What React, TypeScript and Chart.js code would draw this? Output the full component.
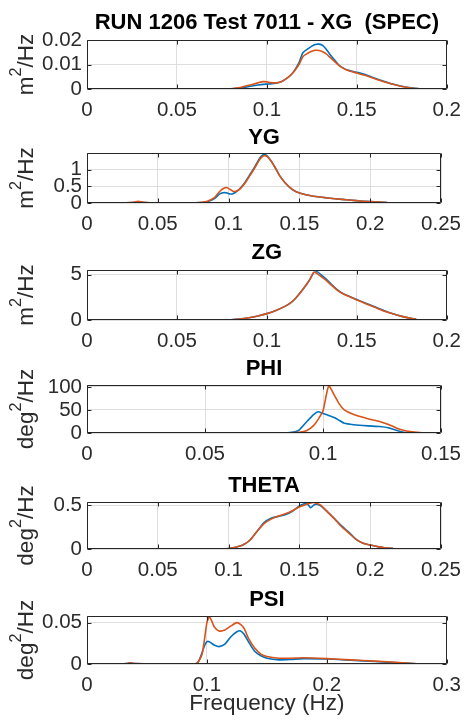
import React, { useEffect, useRef } from 'react';
import { Chart, registerables } from 'chart.js';

Chart.register(...registerables);

const FONT = "'Liberation Sans', Arial, Helvetica, sans-serif";
const BLUE = '#0072BD';
const ORANGE = '#D95319';

// ---------- XG ----------
const xgFreq = [0, 0.02, 0.035, 0.05, 0.07, 0.08, 0.085, 0.09, 0.095, 0.098, 0.1, 0.102, 0.105, 0.108, 0.11, 0.113, 0.115, 0.118, 0.12, 0.123, 0.125, 0.127, 0.129, 0.131, 0.133, 0.135, 0.138, 0.14, 0.143, 0.146, 0.15, 0.155, 0.16, 0.165, 0.17, 0.175, 0.18, 0.185];
const xgBlue = [0, 0, 0.0001, 0, 0, 0.0001, 0.0004, 0.001, 0.0016, 0.0019, 0.002, 0.0021, 0.0024, 0.003, 0.0038, 0.0055, 0.0072, 0.011, 0.0148, 0.0165, 0.0175, 0.0182, 0.0183, 0.0178, 0.0162, 0.0142, 0.0115, 0.0098, 0.0083, 0.0075, 0.0068, 0.0058, 0.0044, 0.0032, 0.002, 0.0011, 0.0005, 0.0001];
const xgOrange = [0, 0, 0.0001, 0, 0, 0.0001, 0.0006, 0.0015, 0.0025, 0.003, 0.0029, 0.0026, 0.0025, 0.003, 0.0038, 0.0055, 0.007, 0.0102, 0.0132, 0.0147, 0.0154, 0.0158, 0.0157, 0.0152, 0.0143, 0.013, 0.011, 0.0096, 0.0082, 0.0073, 0.0065, 0.0055, 0.0042, 0.003, 0.0019, 0.001, 0.0004, 0.0001];
const xgXTicks = [0, 0.05, 0.1, 0.15, 0.2];
const xgYTicks = [0, 0.01, 0.02];

// ---------- YG ----------
const ygFreq = [0, 0.02, 0.033, 0.036, 0.04, 0.05, 0.07, 0.08, 0.085, 0.09, 0.094, 0.097, 0.099, 0.101, 0.103, 0.106, 0.109, 0.112, 0.115, 0.118, 0.121, 0.123, 0.125, 0.127, 0.13, 0.133, 0.136, 0.14, 0.145, 0.15, 0.16, 0.17, 0.18, 0.19, 0.2, 0.212];
const ygBlue = [0, 0, 0.01, 0.03, 0.01, 0, 0, 0.01, 0.04, 0.13, 0.28, 0.31, 0.3, 0.27, 0.28, 0.36, 0.48, 0.65, 0.85, 1.05, 1.28, 1.4, 1.45, 1.42, 1.26, 1.05, 0.82, 0.6, 0.4, 0.3, 0.2, 0.15, 0.11, 0.07, 0.04, 0.01];
const ygOrange = [0, 0, 0.02, 0.05, 0.02, 0, 0, 0.01, 0.05, 0.16, 0.36, 0.45, 0.46, 0.41, 0.35, 0.36, 0.46, 0.62, 0.82, 1.02, 1.24, 1.36, 1.42, 1.4, 1.26, 1.05, 0.82, 0.6, 0.41, 0.3, 0.2, 0.15, 0.11, 0.07, 0.04, 0.01];
const ygXTicks = [0, 0.05, 0.1, 0.15, 0.2, 0.25];
const ygYTicks = [0, 0.5, 1];

// ---------- ZG ----------
const zgFreq = [0, 0.02, 0.04, 0.06, 0.075, 0.08, 0.085, 0.09, 0.095, 0.1, 0.105, 0.11, 0.113, 0.116, 0.119, 0.122, 0.124, 0.126, 0.128, 0.13, 0.133, 0.136, 0.14, 0.143, 0.146, 0.15, 0.155, 0.16, 0.165, 0.17, 0.175, 0.18, 0.183];
const zgBlue = [0, 0, 0, 0, 0, 0.03, 0.1, 0.25, 0.45, 0.7, 1.05, 1.5, 1.85, 2.4, 3.1, 3.9, 4.5, 5.2, 5.3, 5.0, 4.5, 3.9, 3.2, 2.85, 2.6, 2.25, 1.85, 1.45, 1.05, 0.7, 0.4, 0.18, 0.1];
const zgOrange = [0, 0, 0, 0, 0, 0.03, 0.1, 0.25, 0.45, 0.7, 1.05, 1.5, 1.85, 2.4, 3.1, 3.9, 4.5, 5.25, 5.1, 4.8, 4.35, 3.8, 3.15, 2.8, 2.55, 2.2, 1.8, 1.4, 1.0, 0.68, 0.4, 0.18, 0.1];
const zgXTicks = [0, 0.05, 0.1, 0.15, 0.2];
const zgYTicks = [0, 5];

// ---------- PHI ----------
const phiFreq = [0, 0.03, 0.06, 0.08, 0.085, 0.088, 0.09, 0.093, 0.096, 0.098, 0.1, 0.1024, 0.105, 0.107, 0.109, 0.113, 0.119, 0.124, 0.128, 0.131, 0.134, 0.137, 0.141, 0.145];
const phiBlue = [0, 0, 0, 0, 0.5, 2.5, 7, 24, 40, 46, 42, 38, 33, 27, 21, 18, 15.5, 14, 11, 6, 1.5, 0.3, 0, 0];
const phiOrange = [0, 0, 0, 0, 0.3, 0.8, 1.5, 5, 16, 30, 48, 102, 80, 62, 50, 40, 31, 25, 18, 11, 6, 3, 1, 0];
const phiXTicks = [0, 0.05, 0.1, 0.15];
const phiYTicks = [0, 50, 100];

// ---------- THETA ----------
const thetaFreq = [0, 0.03, 0.06, 0.09, 0.1, 0.105, 0.11, 0.115, 0.12, 0.125, 0.13, 0.135, 0.14, 0.145, 0.15, 0.155, 0.158, 0.16, 0.162, 0.165, 0.17, 0.175, 0.18, 0.185, 0.19, 0.195, 0.2, 0.205, 0.21, 0.216];
const thetaBlue = [0, 0, 0, 0, 0.005, 0.02, 0.045, 0.1, 0.2, 0.3, 0.35, 0.37, 0.39, 0.43, 0.49, 0.52, 0.47, 0.5, 0.51, 0.49, 0.42, 0.34, 0.26, 0.19, 0.11, 0.065, 0.045, 0.027, 0.015, 0.007];
const thetaOrange = [0, 0, 0, 0, 0.005, 0.02, 0.045, 0.1, 0.2, 0.29, 0.34, 0.375, 0.4, 0.435, 0.48, 0.51, 0.525, 0.53, 0.52, 0.5, 0.42, 0.34, 0.25, 0.18, 0.11, 0.065, 0.045, 0.027, 0.015, 0.007];
const thetaXTicks = [0, 0.05, 0.1, 0.15, 0.2, 0.25];
const thetaYTicks = [0, 0.5];

// ---------- PSI ----------
const psiFreq = [0, 0.02, 0.033, 0.036, 0.04, 0.06, 0.08, 0.09, 0.093, 0.096, 0.098, 0.1, 0.102, 0.104, 0.106, 0.11, 0.115, 0.12, 0.125, 0.128, 0.131, 0.135, 0.14, 0.145, 0.15, 0.16, 0.17, 0.18, 0.2, 0.22, 0.24, 0.26, 0.278];
const psiBlue = [0, 0, 0.0005, 0.0015, 0.0005, 0, 0, 0, 0.003, 0.014, 0.022, 0.027, 0.027, 0.025, 0.023, 0.021, 0.024, 0.033, 0.039, 0.04, 0.036, 0.026, 0.015, 0.01, 0.007, 0.005, 0.0055, 0.0065, 0.006, 0.0045, 0.003, 0.0015, 0];
const psiOrange = [0, 0, 0.0005, 0.0015, 0.0005, 0, 0, 0, 0.003, 0.012, 0.03, 0.05, 0.057, 0.052, 0.045, 0.04, 0.041, 0.046, 0.05, 0.048, 0.043, 0.03, 0.019, 0.012, 0.009, 0.007, 0.007, 0.0075, 0.0065, 0.005, 0.0035, 0.0018, 0];
const psiXTicks = [0, 0.1, 0.2, 0.3];
const psiYTicks = [0, 0.05];

const titles = ['RUN 1206 Test 7011 - XG  (SPEC)', 'YG', 'ZG', 'PHI', 'THETA', 'PSI'];
// unit labels: [base, superscript, rest]
const yLabels = [
  ['m', '2', '/Hz'], ['m', '2', '/Hz'], ['m', '2', '/Hz'],
  ['deg', '2', '/Hz'], ['deg', '2', '/Hz'], ['deg', '2', '/Hz'],
];
const xLabel = 'Frequency (Hz)';

type Spec = {
  title: string; ylabel: string[]; freq: number[]; blue: number[]; orange: number[];
  xMax: number; xTicks: number[]; yMax: number; yTicks: number[];
  top: number; bottom: number; titleY: number; xlabel?: string;
};

const SPECS: Spec[] = [
  { title: titles[0], ylabel: yLabels[0], freq: xgFreq, blue: xgBlue, orange: xgOrange, xMax: 0.2, xTicks: xgXTicks, yMax: 0.02, yTicks: xgYTicks, top: 40, bottom: 89, titleY: 23 },
  { title: titles[1], ylabel: yLabels[1], freq: ygFreq, blue: ygBlue, orange: ygOrange, xMax: 0.25, xTicks: ygXTicks, yMax: 1.5, yTicks: ygYTicks, top: 153, bottom: 203, titleY: 138 },
  { title: titles[2], ylabel: yLabels[2], freq: zgFreq, blue: zgBlue, orange: zgOrange, xMax: 0.2, xTicks: zgXTicks, yMax: 5.5, yTicks: zgYTicks, top: 270, bottom: 320, titleY: 253 },
  { title: titles[3], ylabel: yLabels[3], freq: phiFreq, blue: phiBlue, orange: phiOrange, xMax: 0.15, xTicks: phiXTicks, yMax: 104, yTicks: phiYTicks, top: 385, bottom: 433, titleY: 369 },
  { title: titles[4], ylabel: yLabels[4], freq: thetaFreq, blue: thetaBlue, orange: thetaOrange, xMax: 0.25, xTicks: thetaXTicks, yMax: 0.535, yTicks: thetaYTicks, top: 502, bottom: 549, titleY: 486 },
  { title: titles[5], ylabel: yLabels[5], freq: psiFreq, blue: psiBlue, orange: psiOrange, xMax: 0.3, xTicks: psiXTicks, yMax: 0.058, yTicks: psiYTicks, top: 616, bottom: 664, titleY: 600, xlabel: xLabel },
];

const W = 470;
const H = 727;
const PLOT_LEFT = 87;
const PLOT_RIGHT = 448;
const TITLE_SIZE = 22;
const TICK_SIZE = 20.5;
const LABEL_SIZE = 22.5;
const YLABEL_BASELINE_X = 33;
const TEXT_COLOR = '#2b2b2b';
const GRID_COLOR = '#dedede';

const fmt = (v: number) => String(Number(Number(v).toFixed(6)));

const boxPlugin = {
  id: 'matlabBox',
  afterDatasetsDraw(chart: any) {
    const { ctx, chartArea: a, scales } = chart;
    const l = Math.round(a.left) + 0.5;
    const r = Math.round(a.right) - 0.5;
    const t = Math.round(a.top) + 0.5;
    const b = Math.round(a.bottom) - 0.5;
    ctx.save();
    ctx.strokeStyle = '#262626';
    ctx.lineWidth = 1;
    ctx.beginPath();
    ctx.rect(l, t, r - l, b - t);
    const tl = 4;
    scales.x.ticks.forEach((tk: any) => {
      const px = Math.round(scales.x.getPixelForValue(tk.value)) + 0.5;
      ctx.moveTo(px, b); ctx.lineTo(px, b - tl);
      ctx.moveTo(px, t); ctx.lineTo(px, t + tl);
    });
    scales.y.ticks.forEach((tk: any) => {
      const py = Math.round(scales.y.getPixelForValue(tk.value)) + 0.5;
      ctx.moveTo(l, py); ctx.lineTo(l + tl, py);
      ctx.moveTo(r, py); ctx.lineTo(r - tl, py);
    });
    ctx.stroke();
    ctx.restore();
  },
};

// Rotated y-axis unit label with a real superscript (like MATLAB's TeX "m^2/Hz")
const yLabelPlugin = {
  id: 'yUnitLabel',
  afterDraw(chart: any, _args: any, opts: any) {
    const parts: string[] = opts.parts;
    if (!parts) return;
    const { ctx, chartArea: a } = chart;
    const S = LABEL_SIZE;
    const supS = S * 0.72;
    ctx.save();
    ctx.fillStyle = TEXT_COLOR;
    ctx.textBaseline = 'alphabetic';
    ctx.textAlign = 'left';
    ctx.font = `${S}px ${FONT}`;
    const w0 = ctx.measureText(parts[0]).width;
    const w2 = ctx.measureText(parts[2]).width;
    ctx.font = `${supS}px ${FONT}`;
    const w1 = ctx.measureText(parts[1]).width;
    const total = w0 + w1 + w2;
    ctx.translate(YLABEL_BASELINE_X, (a.top + a.bottom) / 2);
    ctx.rotate(-Math.PI / 2);
    let x = -total / 2;
    ctx.font = `${S}px ${FONT}`;
    ctx.fillText(parts[0], x, 0);
    x += w0;
    ctx.font = `${supS}px ${FONT}`;
    ctx.fillText(parts[1], x, -S * 0.55);
    x += w1;
    ctx.font = `${S}px ${FONT}`;
    ctx.fillText(parts[2], x, 0);
    ctx.restore();
  },
};

function Panel({ spec }: { spec: Spec }) {
  const ref = useRef<HTMLCanvasElement>(null);
  const canvasTop = Math.round(spec.titleY - TITLE_SIZE / 2);
  const bottomSpace = spec.xlabel ? H - spec.bottom : 36;
  const height = spec.bottom + bottomSpace - canvasTop;
  const titlePadBottom = spec.top - canvasTop - TITLE_SIZE;

  useEffect(() => {
    const canvas = ref.current;
    if (!canvas) return;
    const mk = (vals: number[]) => spec.freq.map((f, i) => ({ x: f, y: vals[i] }));
    const tickFont = { family: FONT, size: TICK_SIZE };
    const chart = new Chart(canvas, {
      type: 'line',
      data: {
        datasets: [
          { label: 'run B', data: mk(spec.orange), borderColor: ORANGE, backgroundColor: ORANGE, borderWidth: 1.6, pointRadius: 0, tension: 0.2, order: 0 },
          { label: 'run A', data: mk(spec.blue), borderColor: BLUE, backgroundColor: BLUE, borderWidth: 1.6, pointRadius: 0, tension: 0.2, order: 1 },
        ],
      },
      options: {
        animation: false,
        responsive: false,
        devicePixelRatio: 1,
        layout: { padding: { left: 0, right: W - PLOT_RIGHT, top: 0, bottom: 0 } },
        plugins: {
          legend: { display: false },
          tooltip: { enabled: false },
          yUnitLabel: { parts: spec.ylabel },
          title: {
            display: true,
            text: spec.title,
            fullSize: false,
            color: '#000',
            font: { family: FONT, size: TITLE_SIZE, weight: 'bold', lineHeight: 1 },
            padding: { top: 0, bottom: titlePadBottom },
          },
        },
        scales: {
          x: {
            type: 'linear',
            min: 0,
            max: spec.xMax,
            afterBuildTicks: (s: any) => { s.ticks = spec.xTicks.map((v) => ({ value: v })); },
            afterFit: (s: any) => { s.height = bottomSpace; },
            grid: { color: GRID_COLOR, lineWidth: 1, drawTicks: false },
            border: { display: false },
            ticks: { font: tickFont, color: TEXT_COLOR, padding: 9, maxRotation: 0, autoSkip: false, callback: (v: any) => fmt(v) },
            title: spec.xlabel
              ? { display: true, text: spec.xlabel, color: TEXT_COLOR, font: { family: FONT, size: LABEL_SIZE }, padding: { top: 0, bottom: 9.5 } }
              : { display: false },
          },
          y: {
            type: 'linear',
            min: 0,
            max: spec.yMax,
            afterBuildTicks: (s: any) => { s.ticks = spec.yTicks.map((v) => ({ value: v })); },
            afterFit: (s: any) => { s.width = PLOT_LEFT; },
            grid: { color: GRID_COLOR, lineWidth: 1, drawTicks: false },
            border: { display: false },
            ticks: { font: tickFont, color: TEXT_COLOR, padding: 5, autoSkip: false, callback: (v: any) => fmt(v) },
            title: { display: false },
          },
        },
      },
      plugins: [boxPlugin, yLabelPlugin],
    } as any);
    return () => chart.destroy();
  }, []);

  return (
    <canvas
      ref={ref}
      width={W}
      height={height}
      style={{ position: 'absolute', left: 0, top: canvasTop, width: W, height, display: 'block' }}
    />
  );
}

export default function App() {
  return (
    <div style={{ position: 'fixed', left: 0, top: 0, width: W, height: H, background: '#fff', overflow: 'hidden' }}>
      {SPECS.map((s) => (
        <Panel key={s.title} spec={s} />
      ))}
    </div>
  );
}
